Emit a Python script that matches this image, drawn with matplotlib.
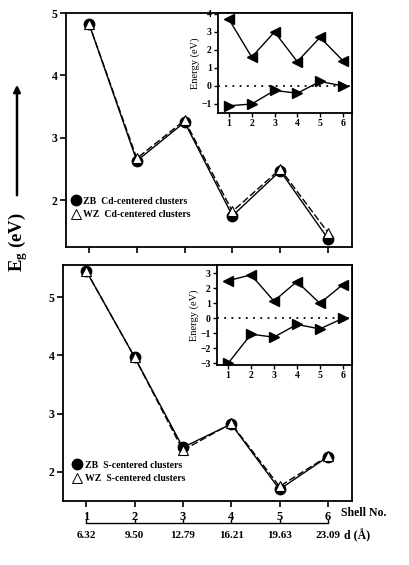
import matplotlib
matplotlib.use("Agg")
import matplotlib.pyplot as plt
from matplotlib.lines import Line2D

plt.rcParams["font.family"] = ["Liberation Serif", "DejaVu Serif"]
plt.rcParams["font.weight"] = "bold"
plt.rcParams["axes.linewidth"] = 1.3
plt.rcParams["mathtext.fontset"] = "custom"
plt.rcParams["mathtext.rm"] = "Liberation Serif:bold"
plt.rcParams["mathtext.bf"] = "Liberation Serif:bold"
plt.rcParams["mathtext.it"] = "Liberation Serif:bold"

# data
shells = [1, 2, 3, 4, 5, 6]
d_labels = ["6.32", "9.50", "12.79", "16.21", "19.63", "23.09"]

cd_zb = [4.83, 2.63, 3.25, 1.75, 2.47, 1.38]
cd_wz = [4.83, 2.67, 3.28, 1.82, 2.50, 1.48]
cd_inset_up = [3.7, 1.6, 3.0, 1.35, 2.7, 1.4]
cd_inset_low = [-1.1, -1.0, -0.25, -0.4, 0.25, 0.0]

s_zb = [5.45, 3.97, 2.42, 2.82, 1.70, 2.26]
s_wz = [5.45, 3.97, 2.37, 2.83, 1.75, 2.27]
s_inset_up = [2.5, 2.9, 1.15, 2.45, 1.0, 2.25]
s_inset_low = [-3.0, -1.05, -1.25, -0.4, -0.7, 0.0]

W, H = 409, 565
fig = plt.figure(figsize=(W / 100, H / 100), dpi=100)


def rect(l, t, r, b):
    return [l / W, 1 - b / H, (r - l) / W, (b - t) / H]


def main_panel(box, zb, wz, ylim, yticks, label, legend_anchor):
    ax = fig.add_axes(rect(*box))
    ax.plot(shells, zb, "-", color="black", lw=1.0, marker="o", ms=7.5,
            mfc="black", mec="black", zorder=3)
    ax.plot(shells, wz, "--", color="black", lw=1.0, dashes=(5, 2), marker="^",
            ms=7.5, mfc="white", mec="black", mew=0.8, zorder=4)
    ax.set_xlim(0.52, 6.5)
    ax.set_ylim(*ylim)
    ax.set_yticks(yticks)
    ax.set_xticks(shells)
    ax.tick_params(direction="out", length=4, width=1.2, labelsize=8.5, pad=2)
    ax.tick_params(axis="x", labelbottom=False)
    handles = [
        Line2D([], [], ls="none", marker="o", ms=7.5, mfc="black", mec="black"),
        Line2D([], [], ls="none", marker="^", ms=7.5, mfc="white", mec="black", mew=0.7),
    ]
    ax.legend(handles, ["ZB  " + label, "WZ  " + label], loc="upper left",
              bbox_to_anchor=legend_anchor, frameon=False, fontsize=7,
              handlelength=0.9, handletextpad=0.35, borderpad=0,
              borderaxespad=0, labelspacing=0.45)
    return ax


def inset_panel(box, up, low, ylim, yticks):
    ax = fig.add_axes(rect(*box))
    ax.set_facecolor("white")
    ax.axhline(0, color="black", ls=(0, (1, 3)), lw=1.3, zorder=1)
    ax.plot(shells, up, "-", color="black", lw=1.0, marker="<", ms=6.5, zorder=3)
    ax.plot(shells, low, "-", color="black", lw=1.0, marker=">", ms=6.5, zorder=3)
    ax.set_xlim(0.52, 6.4)
    ax.set_ylim(*ylim)
    ax.set_yticks(yticks)
    ax.set_xticks(shells)
    ax.tick_params(direction="out", length=3, width=1.0, labelsize=7, pad=1.5)
    ax.set_ylabel("Energy (eV)", fontsize=7.5, labelpad=1)
    return ax


main_panel((66, 13, 352, 247), cd_zb, cd_wz, (1.25, 5.0), [2, 3, 4, 5],
           "Cd-centered clusters", (0.018, 0.215))
inset_panel((218, 13, 352, 113), cd_inset_up, cd_inset_low, (-1.5, 4.05),
            [-1, 0, 1, 2, 3, 4])

axb = main_panel((63, 265, 352, 501), s_zb, s_wz, (1.5, 5.55), [2, 3, 4, 5],
                 "S-centered clusters", (0.035, 0.17))
axb.tick_params(axis="x", labelbottom=True, labelsize=9, pad=3)
inset_panel((217, 265, 352, 365), s_inset_up, s_inset_low, (-3.1, 3.55),
            [-3, -2, -1, 0, 1, 2, 3])

# distance axis below shell numbers
axd = fig.add_axes(rect(63, 522, 352, 523))
axd.set_xlim(0.52, 6.5)
axd.set_ylim(0, 1)
for s in ["top", "left", "right"]:
    axd.spines[s].set_visible(False)
axd.spines["bottom"].set_bounds(1, 6)
axd.spines["bottom"].set_linewidth(1.0)
axd.set_yticks([])
axd.set_xticks(shells)
axd.set_xticklabels(d_labels)
axd.tick_params(axis="x", direction="in", length=3, width=1.0, labelsize=8, pad=6)
axd.patch.set_visible(False)

fig.text(341 / W, 1 - 513 / H, "Shell No.", fontsize=8.5, ha="left", va="center")
fig.text(344 / W, 1 - 536 / H, "d (Å)", fontsize=8.5, ha="left", va="center")

# y label with arrow
fig.text(18 / W, 1 - 242 / H, r"E$_\mathrm{g}$ (eV)", fontsize=13.5, rotation=90,
         ha="center", va="center")
fig.add_artist(matplotlib.patches.FancyArrowPatch(
    (17 / W, 1 - 198 / H), (17 / W, 1 - 82 / H), transform=fig.transFigure,
    arrowstyle="-|>", mutation_scale=10, lw=1.8, color="black"))

fig.savefig("out.png", dpi=100)
